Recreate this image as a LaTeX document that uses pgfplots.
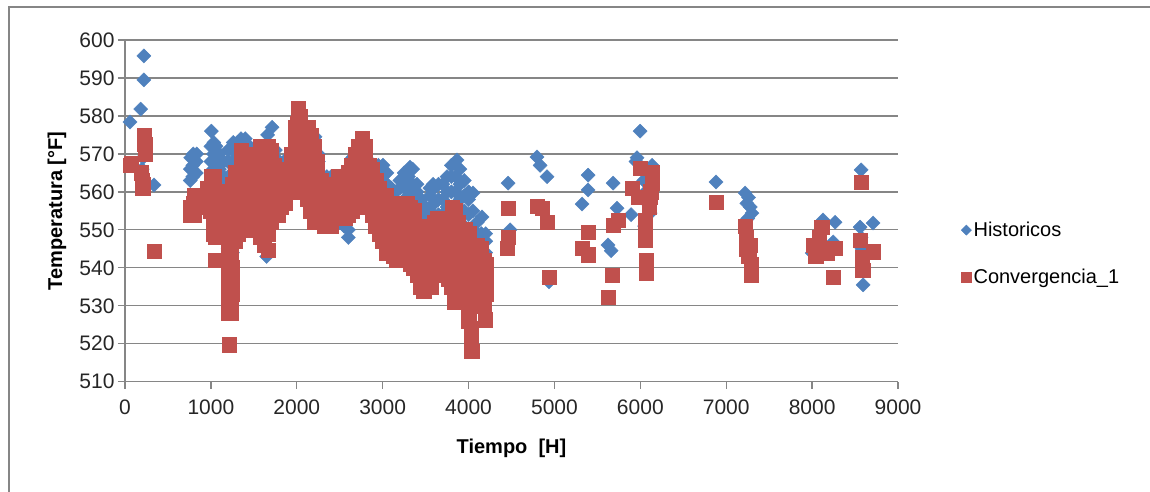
\documentclass[border=0pt]{standalone}
\usepackage{pgfplots}
\pgfplotsset{compat=1.18}
\usepackage{fontspec}
\setmainfont{Liberation Sans}
\definecolor{exblue}{RGB}{79,129,189}
\definecolor{exred}{RGB}{192,80,77}
\definecolor{gridgray}{RGB}{134,134,134}
\begin{document}
\begin{tikzpicture}[font=\fontsize{20}{24}\selectfont]
\path[use as bounding box] (-125pt,-109.3pt) rectangle (1025pt,381.7pt);
\draw[gridgray, line width=2pt] (-116pt,-110pt) -- (-116pt,374.2pt) -- (1026pt,374.2pt);
\begin{axis}[
  scale only axis, width=773pt, height=341.7pt,
  xmin=0, xmax=9000, ymin=510, ymax=600,
  xtick={0,1000,...,9000}, ytick={510,520,...,600},
  axis x line*=bottom, axis y line*=left,
  axis line style={gridgray, line width=1.3pt, -},
  ymajorgrids, grid style={gridgray, line width=1.3pt},
  tick style={gridgray, line width=1.3pt},
  tick align=outside, major tick length=7pt,
  /pgf/number format/assume math mode=true,
  /pgf/number format/set thousands separator={},
  ticklabel style={font=\fontsize{21}{25}\selectfont, text=black!85},
  xticklabel style={yshift=-8pt},
  xlabel={\textbf{Tiempo\ \ [H]}},
  ylabel={\textbf{Temperatura [°F]}},
  xlabel style={at={(axis description cs:0.5,-0.195)}, anchor=center},
  ylabel style={at={(axis description cs:-0.088,0.5)}, anchor=center},
  legend style={draw=none, fill=none, at={(axis description cs:1.0776,0.375)}, anchor=west, row sep=27pt, font=\fontsize{20}{24}\selectfont},
  legend cell align=left,
  legend image code/.code={\draw[#1, every mark/.append style={scale=0.72}] plot coordinates {(0.15cm,0cm)};},
]
\addplot[only marks, mark=square*, mark size=5pt, mark options={rotate=45, draw=exblue, fill=exblue, line width=0.4pt}] coordinates {
(58,578.4)(183,581.8)(220,595.8)(220,589.5)(210,569)(338,561.8)(200,566)
(760,563)(760,566)(765,569)(790,564)(790,567)(795,570)(830,565)(830,568)(835,570)
(1000,568)(1000,572)(1005,576)(1030,566)(1030,570)(1035,573)(1060,565)(1060,568)(1060,572)
(1100,562)(1100,566)(1100,570)(1150,560)(1150,564)(1150,568)
(1200,545)(1200,549)(1200,553)(1200,560)(1200,564)(1200,568)(1200,571)
(1250,544)(1250,560)(1250,564)(1250,568)(1250,571)(1260,573)
(1300,560)(1300,564)(1300,568)(1300,572)(1310,573)
(1350,562)(1350,566)(1350,570)(1350,574)(1400,562)(1400,566)(1400,570)(1400,574)
(1450,560)(1450,564)(1450,568)(1450,572)(1500,560)(1500,564)(1500,568)(1500,571)
(1550,556)(1550,560)(1550,564)(1550,568)(1550,570)(1600,556)(1600,560)(1600,564)(1600,568)(1600,570)
(1650,543)(1650,548)(1650,560)(1650,564)(1650,568)(1650,572)(1660,575)
(1700,560)(1700,564)(1700,568)(1700,572)(1712,577)
(1750,560)(1750,564)(1750,568)(1750,571)(1800,556)(1800,560)(1800,564)(1800,568)
(1850,558)(1850,562)(1850,566)(1850,568)(1900,561)(1900,564)(1900,568)
(1950,560)(1950,564)(1950,567)(2000,560)(2000,564)(2000,568)(2050,562)(2050,566)(2050,570)
(2100,562)(2100,566)(2100,570)(2100,574)(2150,562)(2150,566)(2150,570)(2150,574)
(2200,558)(2200,562)(2200,566)(2200,570)(2212,574.5)(2250,556)(2250,560)(2250,564)(2250,568)(2250,570)
(2300,556)(2300,560)(2300,564)(2350,552)(2350,556)(2350,560)(2350,564)
(2400,553)(2400,557)(2400,561)(2400,564)(2450,553)(2450,557)(2450,561)(2450,563)
(2500,552)(2500,556)(2500,560)(2500,564)(2550,551)(2550,555)(2550,559)(2550,563)(2585,565.8)
(2600,548)(2600,550)(2600,554)(2600,558)(2600,562)(2600,566)
(2650,555)(2650,559)(2650,563)(2650,567)(2650,569)(2700,557)(2700,561)(2700,565)(2700,569)(2700,570)
(2750,560)(2750,564)(2750,568)(2750,571)(2800,558)(2800,562)(2800,566)(2800,570)
(2850,557)(2850,561)(2850,565)(2850,568)(2900,555)(2900,559)(2900,563)(2900,567)
(2950,553)(2950,557)(2950,561)(2950,565)(2950,567)(3000,552)(3000,556)(3000,560)(3000,564)(3004,567)
(3050,550)(3050,554)(3050,558)(3050,562)(3050,565)(3100,549)(3100,553)(3100,557)(3100,561)
(3150,548)(3150,552)(3150,556)(3150,560)(3200,549)(3200,553)(3200,557)(3200,561)(3200,563)
(3250,550)(3250,554)(3250,558)(3250,562)(3250,565)(3300,552)(3300,556)(3300,560)(3300,564)(3318,566.5)
(3350,550)(3350,554)(3350,558)(3350,562)(3350,566)(3400,548)(3400,552)(3400,556)(3400,560)(3400,562)
(3450,546)(3450,550)(3450,554)(3450,558)(3500,545)(3500,549)(3500,553)(3500,556)
(3550,547)(3550,551)(3550,555)(3550,559)(3550,561)(3587,562)(3600,549)(3600,553)(3600,557)(3600,561)
(3650,550)(3650,554)(3650,558)(3650,562)(3700,550)(3700,554)(3700,558)(3700,562)
(3750,552)(3750,556)(3750,560)(3750,564)(3800,552)(3800,556)(3800,560)(3800,564)(3800,567)
(3850,552)(3850,556)(3850,560)(3850,564)(3866,568.4)(3900,550)(3900,554)(3900,558)(3900,562)(3900,566)
(3950,547)(3950,551)(3950,555)(3950,559)(3950,563)
(4000,530)(4000,534)(4000,538)(4000,542)(4000,546)(4000,550)(4000,554)(4000,558)(4000,560)
(4050,529)(4050,533)(4050,540)(4050,545)(4050,550)(4050,555)(4052,559.7)
(4100,541)(4100,545)(4100,549)(4100,552)(4150,541)(4150,545)(4150,549)(4157,553.4)
(4200,544)(4200,547)(4200,549)
(4460,562.3)(4483,550)(4797,569.2)(4833,567)(4914,564)(4937,536.3)
(5392,564.4)(5392,560.5)(5322,556.8)(5624,546)(5660,544.5)(5683,562.3)(5729,555.7)(5892,554)
(5950,568)(5997,576)(5962,569)(6020,566)(6040,563)(6060,560)(6080,557)(6050,551)(6060,548)(6137,567)(6114,554.4)
(6882,562.6)(7220,559.7)(7240,557)(7260,558.5)(7280,556)(7300,554.4)(7250,553)
(8000,543.9)(8050,545)(8128,552.6)(8245,546.8)(8268,552)
(8571,565.8)(8559,550.7)(8570,548)(8580,545)(8594,535.5)(8710,551.8)
};
\addlegendentry{Historicos}
\addplot[only marks, mark=square*, mark size=7.2pt, mark options={draw=exred, fill=exred, line width=0.4pt}] coordinates {
(58,567)(75,567.5)(190,565)(200,563)(205,561)(212,562)(225,575)(230,572.5)(233,570)(338,544.4)
(760,554)(765,556)(800,554)(800,557)(805,559)(840,556)(845,559)
(960,558)(965,561)(1000,555)(1000,558)(1000,561)(1005,564)
(1030,549)(1030,552)(1030,556)(1030,560)(1035,564)(1050,542)(1055,548)(1055,551)(1055,555)
(1080,550)(1080,553)(1080,557)(1080,560)(1100,548)(1100,552)(1100,556)
(1130,550)(1130,553)(1130,557)(1160,548)(1160,552)(1160,556)(1160,560)
(1200,528)(1200,531)(1200,535)(1200,538)(1200,541)(1200,545)(1200,549)(1200,553)(1200,557)(1200,560)
(1211,519.7)(1083,542)
(1230,528)(1230,532)(1230,536)(1230,540)(1230,544)(1230,548)(1230,552)(1230,556)(1230,559)
(1250,533)(1250,537)(1250,540)(1250,547)(1250,551)(1250,555)(1250,562)
(1280,547)(1280,550)(1280,554)(1280,558)(1280,562)(1280,565)
(1320,549)(1320,553)(1320,557)(1320,561)(1320,565)
(1350,552)(1350,556)(1350,560)(1350,564)(1350,568)(1350,571)
(1380,550)(1380,554)(1380,558)(1380,562)(1380,566)(1380,570)
(1420,551)(1420,555)(1420,559)(1420,563)(1420,567)(1420,570)
(1460,552)(1460,556)(1460,560)(1460,564)(1460,568)
(1500,555)(1500,559)(1500,563)(1500,566)
(1540,550)(1540,554)(1540,558)(1540,562)(1540,566)(1540,570)
(1580,548)(1580,552)(1580,556)(1580,560)(1580,564)(1580,568)(1580,572)
(1620,546)(1620,550)(1620,554)(1620,558)(1620,562)(1620,566)(1620,570)
(1665,544.7)(1660,549)(1660,553)(1660,557)(1660,561)(1660,565)(1660,569)(1660,572)
(1700,552)(1700,556)(1700,560)(1700,564)(1700,568)(1700,571)
(1740,555)(1740,559)(1740,563)(1740,567)(1780,554)(1780,558)(1780,562)(1780,565)
(1820,556)(1820,559)(1820,562)(1860,557)(1860,560)(1860,563)
(1900,560)(1900,563)(1900,566)(1940,560)(1940,563)(1940,566)(1940,570)
(1980,561)(1980,565)(1980,569)(1980,573)(1980,577)
(2010,562)(2010,566)(2010,570)(2010,574)(2010,578)(2015,582)
(2040,564)(2040,568)(2040,572)(2040,576)(2040,580)
(2080,561)(2080,565)(2080,569)(2080,573)(2080,577)
(2120,558)(2120,562)(2120,566)(2120,570)(2120,574)(2130,577)
(2160,555)(2160,559)(2160,563)(2160,567)(2160,571)(2160,575)
(2200,552)(2200,556)(2200,560)(2200,564)(2200,568)(2200,572)
(2240,553)(2240,557)(2240,561)(2240,565)(2240,568)
(2280,552)(2280,556)(2280,560)(2280,563)(2320,551)(2320,555)(2320,559)(2320,562)
(2360,551)(2360,554)(2360,558)(2360,561)(2400,551)(2400,554)(2400,558)(2400,561)
(2440,553)(2440,556)(2440,559)(2440,562)(2480,553)(2480,557)(2480,561)(2480,564)
(2520,553)(2520,557)(2520,561)(2520,564)(2560,553)(2560,556)(2560,560)(2560,564)
(2600,554)(2600,558)(2600,562)(2600,565)(2640,555)(2640,559)(2640,563)(2640,567)
(2680,556)(2680,560)(2680,564)(2680,568)(2680,570)
(2720,557)(2720,561)(2720,565)(2720,569)(2720,572)
(2760,558)(2760,562)(2760,566)(2760,570)(2760,574)
(2800,556)(2800,560)(2800,564)(2800,568)(2800,572)
(2840,556)(2840,559)(2840,563)(2840,567)(2880,554)(2880,558)(2880,562)(2880,566)
(2920,551)(2920,555)(2920,559)(2920,563)(2960,549)(2960,553)(2960,557)(2960,561)
(3000,547)(3000,551)(3000,555)(3000,559)(3040,544)(3040,548)(3040,552)(3040,556)(3040,559)
(3080,545)(3080,549)(3080,553)(3080,557)(3120,543)(3120,547)(3120,551)(3120,555)(3120,557)
(3160,542)(3160,546)(3160,550)(3160,554)(3200,542)(3200,546)(3200,550)(3200,554)(3200,556)
(3240,543)(3240,547)(3240,551)(3240,555)(3280,542)(3280,546)(3280,550)(3280,554)(3280,557)
(3320,541)(3320,545)(3320,549)(3320,553)(3320,556)(3360,540)(3360,544)(3360,548)(3360,552)(3360,555)
(3400,538)(3400,542)(3400,546)(3400,550)(3440,535)(3440,539)(3440,543)(3440,547)(3440,551)
(3480,534)(3480,538)(3480,542)(3480,546)(3480,550)(3520,535)(3520,539)(3520,543)(3520,547)(3520,551)
(3560,535)(3560,539)(3560,543)(3560,547)(3560,551)(3600,538)(3600,542)(3600,546)(3600,550)(3600,552)
(3640,538)(3640,542)(3640,546)(3640,550)(3640,553)(3680,540)(3680,544)(3680,548)(3680,551)
(3720,539)(3720,543)(3720,547)(3720,551)(3760,537)(3760,541)(3760,545)(3760,549)(3760,552)
(3800,535)(3800,539)(3800,543)(3800,547)(3800,551)(3808,556)
(3840,531)(3840,535)(3840,539)(3840,543)(3840,547)(3840,551)(3840,555)
(3880,532)(3880,536)(3880,540)(3880,544)(3880,548)(3880,552)
(3920,534)(3920,538)(3920,542)(3920,546)(3920,550)(3960,535)(3960,539)(3960,543)(3960,547)(3960,550)
(4000,526)(4000,530)(4000,534)(4000,538)(4000,542)(4000,546)(4000,549)
(4030,524)(4030,521)(4035,518)
(4050,530)(4050,534)(4050,538)(4050,542)(4050,546)
(4100,534)(4100,538)(4100,542)(4100,546)(4140,530)(4140,534)(4140,538)(4140,542)(4140,545)
(4192,526.3)(4180,530)(4180,534)(4180,538)(4180,542)(4200,533)(4200,537)(4200,541)
(4448,545.2)(4460,548)(4460,555.7)(4797,556.3)(4856,555.7)(4914,552)(4937,537.6)
(5322,545.2)(5392,549.4)(5392,543.4)(5624,532.3)(5671,538)(5683,551.3)(5741,552.6)
(5904,561)(5997,566.3)(5974,558.6)(6137,565.2)(6137,562.3)(6114,558.6)(6100,556)(6120,560)
(6055,552.6)(6055,550)(6055,547.3)(6067,542)(6067,538.6)
(6882,557.3)
(7220,551)(7230,548)(7230,545)(7260,543)(7280,546)(7290,541)(7290,538)
(8010,546)(8040,543)(8080,548)(8110,550.7)(8130,545)(8175,544)(8268,545.2)(8245,537.6)
(8571,562.6)(8559,547.3)(8582,542.8)(8582,541)(8590,539.4)(8710,544.2)
};
\addlegendentry{Convergencia\_1}
\end{axis}
\end{tikzpicture}
\end{document}
